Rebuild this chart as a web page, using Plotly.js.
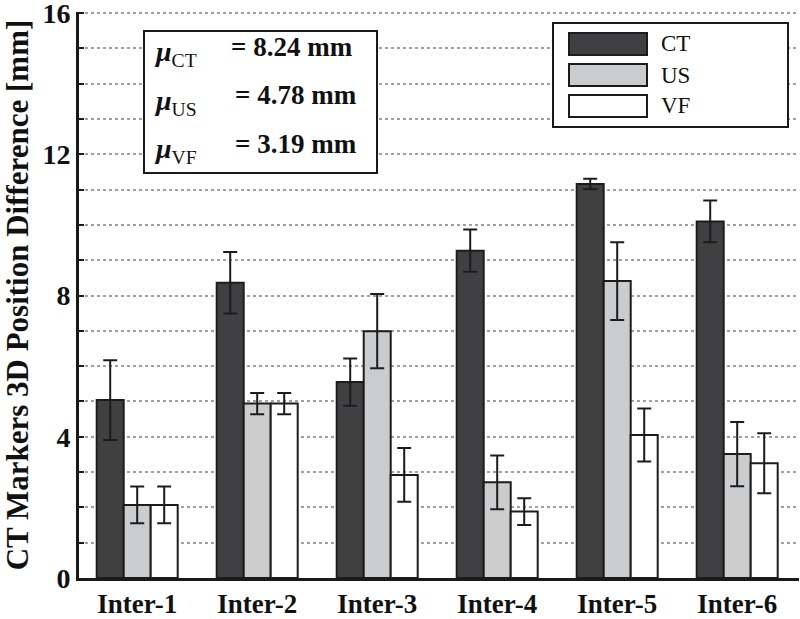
<!DOCTYPE html>
<html>
<head>
<meta charset="utf-8">
<script src="https://cdn.plot.ly/plotly-3.0.1.min.js"></script>
<style>html,body{margin:0;padding:0;background:#fff;}#chart{width:800px;height:619px;}</style>
</head>
<body>
<div id="chart"></div>
<script>
// ---- data ----
const categories = ["Inter-1", "Inter-2", "Inter-3", "Inter-4", "Inter-5", "Inter-6"];
const seriesNames = ["CT", "US", "VF"];
const ctValues = [5.04, 8.36, 5.55, 9.27, 11.16, 10.10];
const ctErrors = [1.13, 0.87, 0.67, 0.60, 0.15, 0.59];
const usValues = [2.07, 4.94, 6.99, 2.71, 8.41, 3.51];
const usErrors = [0.52, 0.30, 1.05, 0.76, 1.10, 0.91];
const vfValues = [2.07, 4.94, 2.92, 1.88, 4.05, 3.25];
const vfErrors = [0.52, 0.30, 0.76, 0.38, 0.75, 0.85];
const meanSubs = ["CT", "US", "VF"];
const meanLabels = ["= 8.24 mm", "= 4.78 mm", "= 3.19 mm"];
const yTickVals = [0, 4, 8, 12, 16];
const yTickText = ["0", "4", "8", "12", "16"];
const yTitle = "CT Markers 3D Position Difference [mm]";

// ---- style ----
const colors = ["#404042", "#cbcccd", "#ffffff"];
const edge = "#1c1c1c";
const W = 800, H = 619;
const M = {l: 79, r: 1, t: 12, b: 41};
const PW = W - M.l - M.r, PH = H - M.t - M.b;
const px = x => (x - M.l) / PW;
const py = y => (H - M.b - y) / PH;
const serif = "Liberation Serif, Times New Roman, serif";

const vals = [ctValues, usValues, vfValues];
const errs = [ctErrors, usErrors, vfErrors];
const traces = seriesNames.map((n, i) => ({
  type: "bar",
  name: n,
  x: categories,
  y: vals[i],
  marker: {color: colors[i], line: {color: edge, width: 2}},
  error_y: {type: "data", array: errs[i], visible: true, color: edge, thickness: 2, width: 7},
  showlegend: false,
  hoverinfo: "x+y"
}));

const shapes = [];
const annotations = [];

// stats box
shapes.push({type: "rect", xref: "paper", yref: "paper", layer: "above",
  x0: px(144), x1: px(377), y0: py(173), y1: py(31),
  fillcolor: "#ffffff", line: {color: "#1a1a1a", width: 2}});
const rowY = [50, 98, 147];
meanSubs.forEach((s, i) => {
  annotations.push({xref: "paper", yref: "paper", x: px(152), y: py(rowY[i] + 4),
    xanchor: "left", yanchor: "middle", showarrow: false,
    text: "<b><i>μ</i></b><sub>" + s + "</sub>",
    font: {family: serif, size: 28, color: "#111"}});
  annotations.push({xref: "paper", yref: "paper", x: px(i === 0 ? 229 : 233), y: py(rowY[i] - 3),
    xanchor: "left", yanchor: "middle", showarrow: false,
    text: "<b>" + meanLabels[i] + "</b>",
    font: {family: serif, size: 27, color: "#111"}});
});

// legend box
shapes.push({type: "rect", xref: "paper", yref: "paper", layer: "above",
  x0: px(553), x1: px(788), y0: py(127), y1: py(23),
  fillcolor: "#ffffff", line: {color: "#1a1a1a", width: 2}});
const legY = [44, 75, 106];
seriesNames.forEach((n, i) => {
  shapes.push({type: "rect", xref: "paper", yref: "paper", layer: "above",
    x0: px(569), x1: px(647), y0: py(legY[i] + 11), y1: py(legY[i] - 11),
    fillcolor: colors[i], line: {color: edge, width: 2}});
  annotations.push({xref: "paper", yref: "paper", x: px(659), y: py(legY[i]),
    xanchor: "left", yanchor: "middle", showarrow: false,
    text: n, font: {family: serif, size: 23, color: "#111"}});
});

const layout = {
  width: W, height: H,
  margin: M,
  paper_bgcolor: "#fff", plot_bgcolor: "#fff",
  barmode: "group", bargap: 0.325, bargroupgap: 0,
  font: {family: serif, color: "#111"},
  xaxis: {
    type: "category", range: [-0.485, 5.515],
    showline: true, linecolor: "#1a1a1a", linewidth: 3,
    showgrid: false, ticks: "", zeroline: false,
    tickfont: {family: serif, size: 27, weight: "bold", color: "#111"},
    fixedrange: true
  },
  yaxis: {
    range: [0, 16.03], tickmode: "array", tickvals: yTickVals, ticktext: yTickText,
    ticks: "inside", ticklen: 5, tickwidth: 2, tickcolor: "#1a1a1a",
    ticklabeloverflow: "allow",
    minor: {tickmode: "linear", tick0: 0, dtick: 1, ticks: "inside", ticklen: 5, tickwidth: 2,
      tickcolor: "#1a1a1a", showgrid: true, gridcolor: "#a0a0a0", gridwidth: 2, griddash: "dot"},
    showline: true, linecolor: "#1a1a1a", linewidth: 3,
    showgrid: true, gridcolor: "#a0a0a0", gridwidth: 2, griddash: "dot",
    zeroline: false,
    tickfont: {family: serif, size: 28, weight: "bold", color: "#111"},
    title: {text: "<b>" + yTitle + "</b>", font: {family: serif, size: 31, color: "#111"}, standoff: 8},
    fixedrange: true
  },
  shapes: shapes,
  annotations: annotations,
  showlegend: false
};

Plotly.newPlot("chart", traces, layout, {displayModeBar: false, staticPlot: true});
</script>
</body>
</html>
